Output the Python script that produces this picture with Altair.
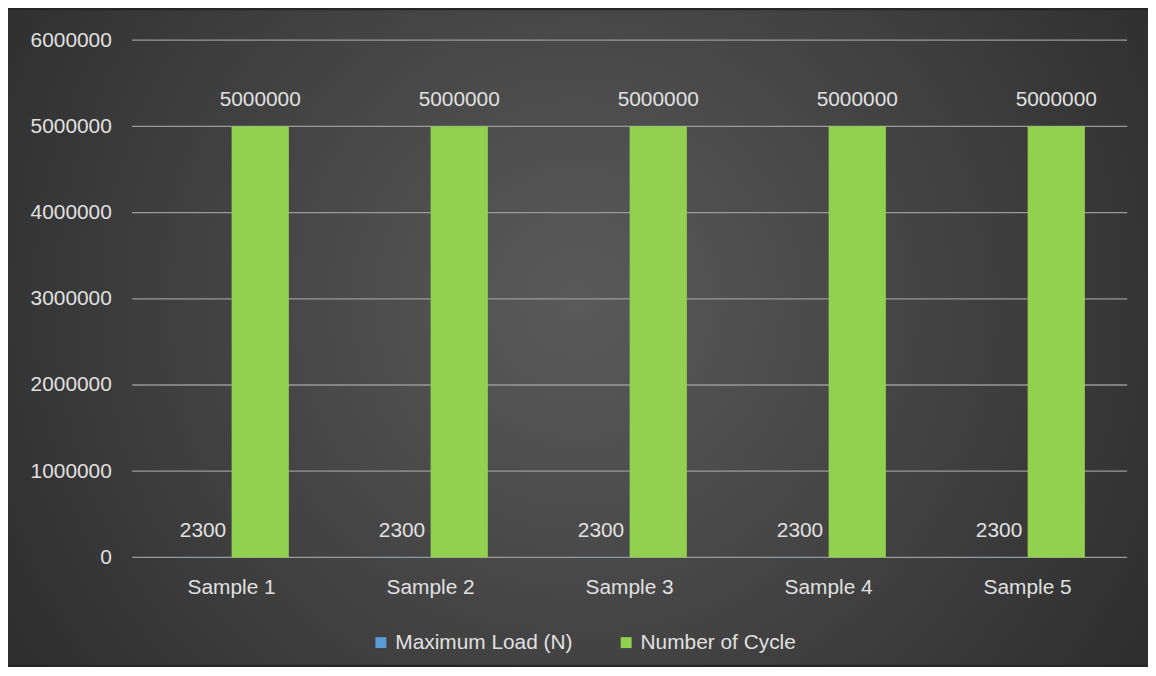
import altair as alt
import pandas as pd

samples = ["Sample 1", "Sample 2", "Sample 3", "Sample 4", "Sample 5"]
series_names = ["Maximum Load  (N)", "Number of Cycle"]
max_load = [2300, 2300, 2300, 2300, 2300]
cycles = [5000000, 5000000, 5000000, 5000000, 5000000]
y_ticks = [0, 1000000, 2000000, 3000000, 4000000, 5000000, 6000000]
colors = ["#5b9bd5", "#92d050"]

rows = []
for s, a, b in zip(samples, max_load, cycles):
    rows.append({"sample": s, "series": series_names[0], "value": a})
    rows.append({"sample": s, "series": series_names[1], "value": b})
df = pd.DataFrame(rows)

FONT = "Liberation Sans"
TXT = "#e0e0e0"
FS = 21
W, H = 1002, 521
PL, PT, PR, PB = 125, 30, 21, 108

bg = alt.Chart(pd.DataFrame({"k": [0]})).mark_rect(
    fill={
        "gradient": "radial",
        "x1": 0.5, "y1": 0.47, "r1": 0,
        "x2": 0.5, "y2": 0.47, "r2": 0.72,
        "stops": [
            {"offset": 0, "color": "#5a5a5a"},
            {"offset": 1, "color": "#242424"},
        ],
    }
).encode(
    x=alt.value(-PL), x2=alt.value(W + PR), y=alt.value(-PT), y2=alt.value(H + PB)
)

yscale = alt.Scale(domain=[0, 6000000])
yaxis = alt.Axis(
    title=None, values=y_ticks, format="d", domain=False, ticks=False,
    tickSize=0, labelPadding=21, labelFontSize=FS, labelFont=FONT,
    labelColor=TXT, grid=False, zindex=1,
)

grid = alt.Chart(pd.DataFrame({"value": y_ticks})).mark_rule(
    color="#9a9a9a", strokeWidth=1.3
).encode(y=alt.Y("value:Q", scale=yscale, axis=yaxis))

base = alt.Chart(df).encode(
    x=alt.X(
        "sample:N",
        sort=samples,
        scale=alt.Scale(paddingInner=0.425, paddingOuter=0.2125),
        axis=alt.Axis(
            title=None, labelAngle=0, domain=False, ticks=False, tickSize=0,
            labelPadding=19, labelFontSize=FS, labelFont=FONT, labelColor=TXT,
            zindex=1,
        ),
    ),
    xOffset=alt.XOffset(
        "series:N", sort=series_names, scale=alt.Scale(paddingInner=0, paddingOuter=0)
    ),
)

bars = base.mark_bar().encode(
    y=alt.Y("value:Q", scale=yscale, axis=yaxis),
    color=alt.Color(
        "series:N",
        sort=series_names,
        scale=alt.Scale(domain=series_names, range=colors),
        legend=alt.Legend(
            title=None, orient="none", legendX=240, legendY=596,
            direction="horizontal", symbolType="square", symbolSize=121,
            symbolStrokeWidth=0, labelFontSize=FS, labelFont=FONT,
            labelColor=TXT, columnPadding=37, labelOffset=4, padding=0,
            labelLimit=0,
        ),
    ),
)

labels = base.mark_text(
    baseline="alphabetic", dy=-20, font=FONT, fontSize=FS, color=TXT
).encode(
    y=alt.Y("value:Q", scale=yscale, axis=yaxis),
    text=alt.Text("value:Q", format="d"),
)

chart = alt.layer(bg, grid, bars, labels).properties(
    width=W,
    height=H,
    padding={"left": PL, "top": PT, "right": PR, "bottom": PB},
    autosize=alt.AutoSizeParams(type="none"),
    background="#262626",
).configure_view(stroke=None)

chart.save("out.html", embed_options={"renderer": "svg", "actions": False})
